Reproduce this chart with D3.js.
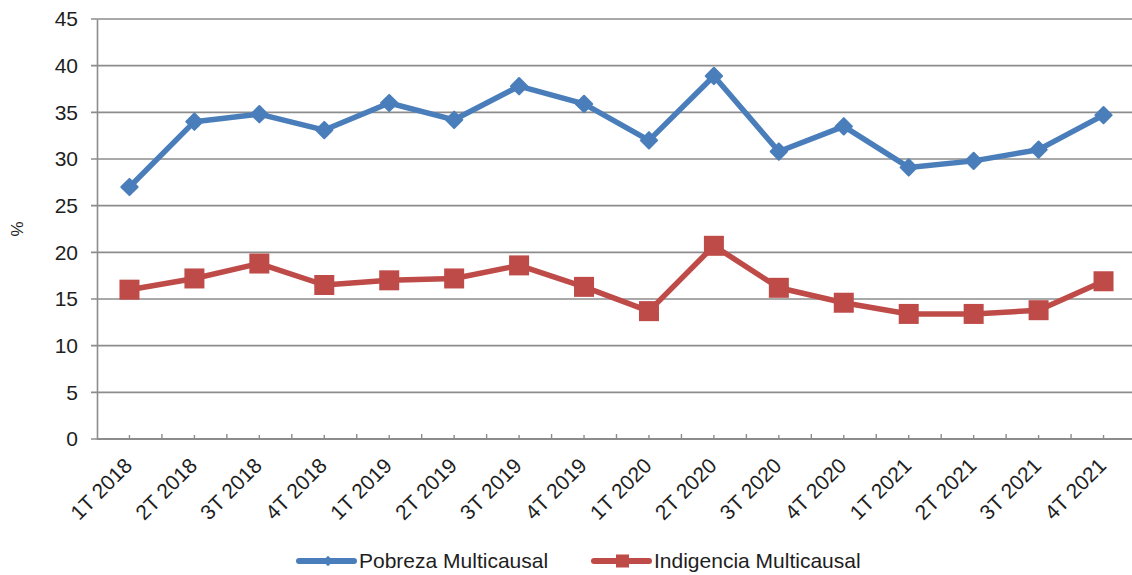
<!DOCTYPE html>
<html>
<head>
<meta charset="utf-8">
<script src="https://cdn.jsdelivr.net/npm/d3@7"></script>
<style>
  html, body { margin: 0; padding: 0; background: #fff; }
  svg { display: block; font-family: "Liberation Sans", Arial, sans-serif; }
</style>
</head>
<body>
<svg id="chart" width="1132" height="575"></svg>
<script>
// Quarterly categories
const quarters = [
  "1T 2018", "2T 2018", "3T 2018", "4T 2018",
  "1T 2019", "2T 2019", "3T 2019", "4T 2019",
  "1T 2020", "2T 2020", "3T 2020", "4T 2020",
  "1T 2021", "2T 2021", "3T 2021", "4T 2021"
];

// Multicausal poverty (%)
const pobreza = [27.0, 34.0, 34.8, 33.1, 36.0, 34.2, 37.8, 35.9, 32.0, 38.9, 30.8, 33.5, 29.1, 29.8, 31.0, 34.7];

// Multicausal indigence (%)
const indigencia = [16.0, 17.2, 18.8, 16.5, 17.0, 17.2, 18.6, 16.3, 13.7, 20.7, 16.2, 14.6, 13.4, 13.4, 13.8, 16.9];

const yTicks = [0, 5, 10, 15, 20, 25, 30, 35, 40, 45];

const seriesNames = ["Pobreza Multicausal", "Indigencia Multicausal"];

const svg = d3.select("#chart");

const plot = { left: 97, right: 1136, top: 19, bottom: 439 };
const blue = "#4a7ebb", red = "#be4b48", grid = "#8c8c8c", ink = "#1e1e1e";

const x = d3.scaleBand().domain(quarters).range([plot.left, plot.right]).padding(0);
const y = d3.scaleLinear().domain([0, 45]).range([plot.bottom, plot.top]);
const cx = d => x(d) + x.bandwidth() / 2;

// Horizontal gridlines (with short outward ticks)
svg.append("g")
  .selectAll("line")
  .data(yTicks)
  .join("line")
  .attr("x1", plot.left - 6).attr("x2", plot.right)
  .attr("y1", d => y(d)).attr("y2", d => y(d))
  .attr("stroke", grid).attr("stroke-width", 1.6);

// Y axis
const yAxis = svg.append("g")
  .attr("transform", `translate(${plot.left},0)`)
  .call(d3.axisLeft(y).tickValues(yTicks).tickSize(0).tickPadding(19));
yAxis.select(".domain").attr("stroke", grid).attr("stroke-width", 1.6);
yAxis.selectAll("text").attr("font-size", 21).attr("fill", ink)
  .attr("font-family", "Liberation Sans, Arial, sans-serif");

// X axis baseline and ticks
svg.append("line")
  .attr("x1", plot.left).attr("x2", plot.right)
  .attr("y1", plot.bottom).attr("y2", plot.bottom)
  .attr("stroke", grid).attr("stroke-width", 1.8);

const tickG = svg.append("g");
quarters.forEach(q => {
  tickG.append("line")
    .attr("x1", cx(q)).attr("x2", cx(q))
    .attr("y1", plot.bottom - 4).attr("y2", plot.bottom)
    .attr("stroke", grid).attr("stroke-width", 1.4);
  tickG.append("line")
    .attr("x1", x(q) + x.bandwidth()).attr("x2", x(q) + x.bandwidth())
    .attr("y1", plot.bottom - 5).attr("y2", plot.bottom)
    .attr("stroke", grid).attr("stroke-width", 1.4);
});

// Rotated category labels
svg.append("g")
  .selectAll("text")
  .data(quarters)
  .join("text")
  .attr("transform", d => `translate(${cx(d) + 4},${plot.bottom + 28}) rotate(-45)`)
  .attr("text-anchor", "end")
  .attr("font-size", 21)
  .attr("fill", ink)
  .text(d => d);

// Y axis title
svg.append("text")
  .attr("transform", "translate(23,229) rotate(-90)")
  .attr("text-anchor", "middle")
  .attr("font-size", 17)
  .attr("fill", ink)
  .text("%");

const line = d3.line().x((d, i) => cx(quarters[i])).y(d => y(d));

// Poverty series with diamond markers
svg.append("path")
  .datum(pobreza)
  .attr("d", line)
  .attr("fill", "none").attr("stroke", blue).attr("stroke-width", 5.5)
  .attr("stroke-linejoin", "round");

const diamond = d3.symbol().type(d3.symbolDiamond2).size(170);
svg.append("g")
  .selectAll("path")
  .data(pobreza)
  .join("path")
  .attr("d", diamond)
  .attr("transform", (d, i) => `translate(${cx(quarters[i])},${y(d)})`)
  .attr("fill", blue)
  .attr("stroke", blue).attr("stroke-width", 2).attr("stroke-linejoin", "round");

// Indigence series with square markers
svg.append("path")
  .datum(indigencia)
  .attr("d", line)
  .attr("fill", "none").attr("stroke", red).attr("stroke-width", 5.5)
  .attr("stroke-linejoin", "round");

svg.append("g")
  .selectAll("rect")
  .data(indigencia)
  .join("rect")
  .attr("x", (d, i) => cx(quarters[i]) - 10)
  .attr("y", d => y(d) - 10)
  .attr("width", 20).attr("height", 20)
  .attr("fill", red);

// Legend
const legend = svg.append("g");
const legendItems = [
  { name: seriesNames[0], color: blue, x0: 299, shape: "diamond" },
  { name: seriesNames[1], color: red, x0: 594, shape: "square" }
];
legendItems.forEach(it => {
  const ly = 561;
  legend.append("line")
    .attr("x1", it.x0).attr("x2", it.x0 + 55)
    .attr("y1", ly).attr("y2", ly)
    .attr("stroke", it.color).attr("stroke-width", 6).attr("stroke-linecap", "round");
  if (it.shape === "diamond") {
    legend.append("path")
      .attr("d", d3.symbol().type(d3.symbolDiamond2).size(70)())
      .attr("transform", `translate(${it.x0 + 29},${ly})`)
      .attr("fill", it.color);
  } else {
    legend.append("rect")
      .attr("x", it.x0 + 22).attr("y", ly - 6.5)
      .attr("width", 13).attr("height", 13)
      .attr("fill", it.color);
  }
  legend.append("text")
    .attr("x", it.x0 + 60).attr("y", ly + 6.5)
    .attr("font-size", 21)
    .attr("fill", ink)
    .text(it.name);
});
</script>
</body>
</html>
